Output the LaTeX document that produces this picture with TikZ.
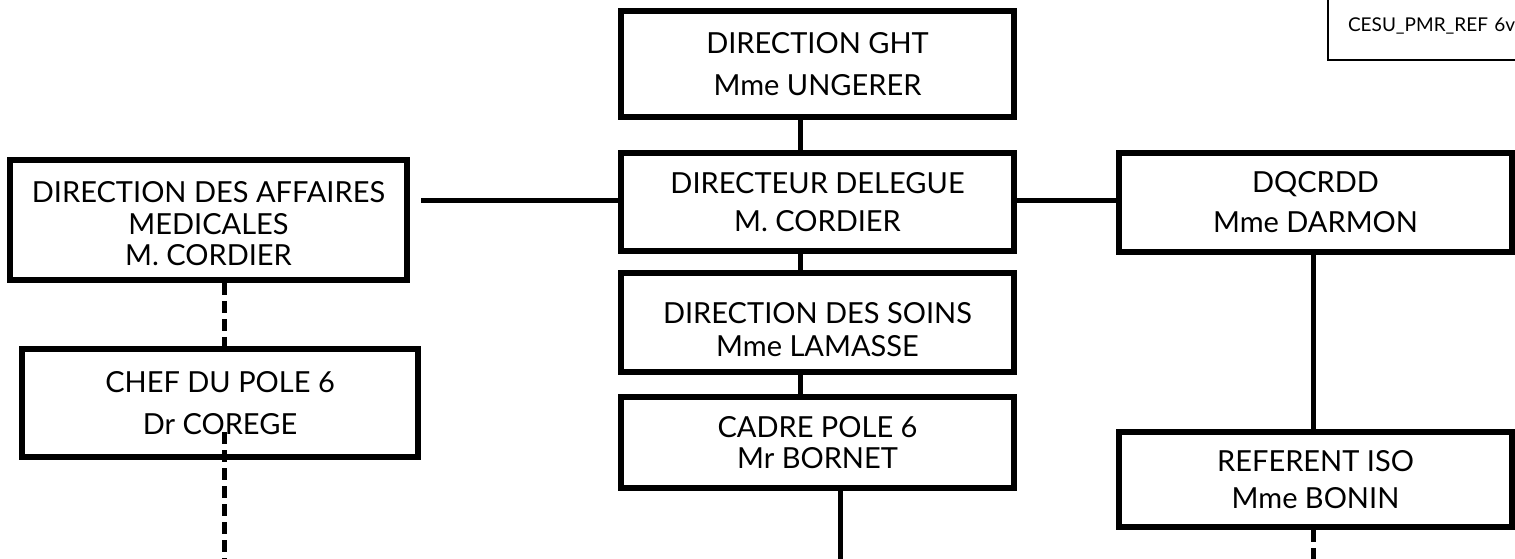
\documentclass[tikz,border=0pt]{standalone}
\usepackage{fontspec}
\setmainfont{Lato}
\begin{document}
\begin{tikzpicture}[x=1pt,y=-1pt,
  orgbox/.style={draw=black, line width=5.5pt, fill=white, inner sep=0pt, align=center,
    minimum width=#1, font=\fontsize{29}{33}\selectfont},
  orgbox/.default=393pt,
  conn/.style={draw=black, line width=5pt},
  dconn/.style={draw=black, line width=5pt, dash pattern=on 12pt off 6pt}]
\useasboundingbox (0,0) rectangle (1515,559);
\fill[white] (0,0) rectangle (1515,559);
% boxes
\node[orgbox, minimum height=106pt, font=\fontsize{29}{42}\selectfont] (ght) at (817.5,64) {DIRECTION GHT\\Mme UNGERER};
\node[orgbox, minimum height=98pt, font=\fontsize{29}{38}\selectfont] (del) at (817.5,202) {DIRECTEUR DELEGUE\\M. CORDIER};
\node[orgbox, minimum height=99pt, font=\fontsize{29}{33}\selectfont] (soins) at (817.5,322.5) {\rule{0pt}{35pt}DIRECTION DES SOINS\\Mme LAMASSE};
\node[orgbox, minimum height=91pt, font=\fontsize{29}{31}\selectfont] (cadre) at (817.5,442.5) {CADRE POLE 6\\Mr BORNET};
\node[orgbox=397pt, minimum height=120pt, font=\fontsize{29}{31.5}\selectfont] (dam) at (208.5,220) {\rule{0pt}{29pt}DIRECTION DES AFFAIRES\\MEDICALES\\M. CORDIER};
\node[orgbox=396pt, minimum height=108pt, font=\fontsize{29}{42}\selectfont] (chef) at (220,403) {CHEF DU POLE 6\\Dr COREGE};
\node[orgbox, minimum height=99pt, font=\fontsize{29}{40}\selectfont] (dq) at (1315.5,202.5) {DQCRDD\\Mme DARMON};
\node[orgbox, minimum height=95pt, font=\fontsize{29}{37}\selectfont] (ref) at (1315.5,479.5) {REFERENT ISO\\Mme BONIN};
\node[draw=black, line width=2pt, inner xsep=20pt, inner ysep=0pt, text width=260pt, align=left,
  minimum height=69pt, font=\fontsize{19}{22}\selectfont, anchor=north west] (cesu) at (1327,-10) {CESU\_PMR\_REF 6v};
% free ends
\coordinate (cadreEnd) at (840,570);
\coordinate (chefStart) at (224,432);
\coordinate (chefEnd) at (224,570);
\coordinate (refEnd) at (1313,570);
% connectors
\draw[conn] ([xshift=-17.5pt]ght.south) -- ([xshift=-17.5pt]del.north);
\draw[conn] ([xshift=-17.5pt]del.south) -- ([xshift=-17.5pt]soins.north);
\draw[conn] ([xshift=-17.5pt]soins.south) -- ([xshift=-17.5pt]cadre.north);
\draw[conn] ([xshift=22.5pt]cadre.south) -- (cadreEnd);
\draw[conn, shorten >=11pt] ([yshift=2pt]del.west) -- ([yshift=2pt]del.west -| dam.east);
\draw[conn] ([yshift=2pt]del.east) -- ([yshift=2pt]del.east -| dq.west);
\draw[conn] ([xshift=-2.5pt]dq.south) -- ([xshift=-2.5pt]ref.north);
\draw[dconn] ([xshift=-2.5pt]ref.south) -- (refEnd);
\draw[dconn] ([xshift=15.5pt]dam.south) -- ([xshift=4pt]chef.north);
\draw[dconn] (chefStart) -- (chefEnd);
\end{tikzpicture}
\end{document}
